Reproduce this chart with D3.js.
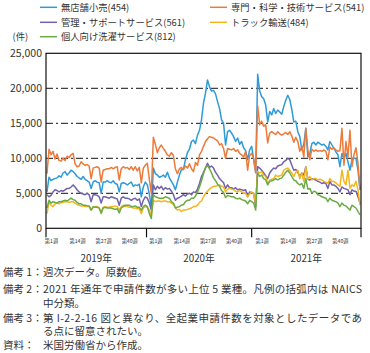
<!DOCTYPE html>
<html><head><meta charset="utf-8">
<script src="https://cdn.jsdelivr.net/npm/d3@7"></script>
<style>
body{margin:0;background:#fff;}
svg{display:block;font-family:"Noto Sans CJK JP","Noto Sans",sans-serif;}
</style></head><body>
<svg id="c" width="370" height="353"></svg>
<script>
const seriesNames = ["無店舗小売(454)","専門・科学・技術サービス(541)","管理・サポートサービス(561)","トラック輸送(484)","個人向け洗濯サービス(812)"];
const seriesColors = ["#2f9ad8","#ec7a3a","#7262ab","#f5b51c","#6cab44"];
const retail = [5200,7300,6800,7000,7100,7200,7500,7300,7900,8100,
7600,7900,8300,8100,7800,7400,7200,7000,7400,7000,
6800,6600,5700,6600,6800,6600,6500,5000,6600,6600,
6800,6600,6500,6800,6400,6300,5200,6400,6500,6400,
6200,6400,6600,6000,6200,6100,6300,4500,5900,6600,
6200,4900,2900,8600,7800,7600,7300,7400,7600,7300,
8000,7200,6700,6200,5500,6600,7600,8400,8400,9800,
10800,11300,12400,12600,12100,13300,14000,15500,17900,19300,
21200,20200,19600,19700,19200,18100,17100,15500,15000,11900,
13800,14000,13600,13100,12400,12900,12000,12400,11500,11100,
9800,11200,11700,9800,8000,22000,19600,18800,18500,17600,
15200,16700,16200,17100,16400,16900,16600,16300,17400,18300,
19000,18400,17000,15200,15300,13800,13100,11200,12000,14300,
10200,10700,12100,12300,11900,12300,12100,11900,12000,11700,
11200,12400,11900,11400,10900,10500,8800,10700,10000,10700,
9500,8300,9800,10000,10000,8300,5500];
const professional = [7800,11300,10500,11000,9900,10600,9700,9600,10000,9700,
10300,10100,10500,10700,9200,8800,8900,9500,9200,9000,
9100,8900,7100,8600,8700,8800,8600,6600,8300,8400,
8500,8500,8700,8500,8700,8800,6900,8500,8800,8600,
8700,8400,8800,8300,8800,8200,8700,6500,8600,9000,
9300,7000,5000,13000,12000,10800,11500,11900,11400,11000,
10500,10300,10800,10400,8500,7800,8500,8700,8400,8900,
8600,9200,8500,8100,9400,9000,10500,11000,11700,12400,
12800,13100,13000,12900,12700,12500,11900,12100,11400,10000,
11400,11300,11200,11400,11000,11200,10700,10500,10200,11000,
8300,10400,10700,10000,7900,17500,14800,15300,14600,14800,
12200,13600,13800,13600,13400,13800,13500,13300,13500,13700,
13400,13800,13200,12300,13000,12400,11000,11700,10200,14300,
11200,9800,11300,11000,11200,11000,11100,11000,11200,11000,
9800,11600,11300,11500,11200,11000,11100,14300,9000,12400,
10200,14000,8800,10500,11500,9300,5500];
const admin = [4800,4500,4700,5200,5500,5400,5200,5400,5300,5500,
5700,5700,5900,6200,5900,5500,5200,5000,4900,4800,
5000,4800,3800,4800,4800,4700,4500,3600,4500,4500,
4400,4300,4500,4400,4300,4200,3300,4300,4500,4300,
4300,4200,4000,4200,4300,4000,4200,3100,4000,4500,
4300,3600,2600,6200,5500,6000,5700,6000,5500,5800,
5600,5700,5300,4800,4000,4300,4400,4600,4800,4600,
4900,5000,4800,5200,5100,5600,6400,7400,8000,8600,
9300,8700,8900,8600,8000,7600,7100,6800,6500,5700,
6200,5800,5800,5600,5800,5500,5600,5500,5400,5500,
4500,5200,5100,5000,3100,8800,8600,8300,7900,7500,
7100,7900,8300,8600,8500,8900,9000,9100,9500,9700,
10000,9800,9000,8300,8400,8000,7400,7900,7600,8800,
7000,6900,7100,7000,6900,6700,6600,6400,6500,6400,
5700,6700,6200,6200,6000,5700,5200,5900,5700,5600,
5500,4800,5500,5300,5300,4500,3600];
const trucking = [2100,3800,3300,3100,3500,3600,3500,3700,3700,3800,
3800,3700,3800,3800,3600,3400,3300,3200,3200,3100,
3100,3100,2600,3000,3100,3100,2900,2400,3000,3100,
3000,3000,3100,3100,3200,3100,2600,3100,3300,3100,
3100,3000,3000,2900,2900,2800,2800,2100,2900,3100,
3000,2600,1900,4000,3800,3900,3900,3800,3900,3900,
3800,3800,3600,3400,2900,2600,2700,2400,2600,2600,
2700,2800,2900,3100,3100,3300,3700,3900,4500,5000,
5300,5600,5800,6000,6000,6100,6200,6000,5900,5200,
5600,5700,5600,5500,5300,5200,5400,5200,5000,5000,
4500,4900,5200,4900,3600,8100,7900,8100,7600,7400,
6400,6900,7000,7100,7600,7400,7500,7600,8300,8500,
8600,8300,7900,7400,8000,8300,7100,7900,6700,8800,
7000,7400,6900,7100,7100,6900,7000,6900,6700,6600,
6400,7100,6700,6700,6500,6200,6000,8300,6700,6200,
8300,5700,6200,6000,6700,5500,3300];
const laundry = [2900,4000,3600,3800,3700,3600,3800,3800,3900,4000,
3900,4100,4300,4100,4000,3700,3500,3500,3300,3300,
3200,3200,2600,3100,3000,3000,2900,2100,2900,3000,
2900,2900,2900,2800,2700,2800,2200,2900,3100,3300,
3300,3300,3100,3100,3200,3000,3000,2600,3100,3300,
3100,2100,1400,4800,4500,4400,4300,4300,4300,4500,
4400,4300,3800,3600,2900,3000,3100,3300,3400,3800,
4000,4000,4300,4300,4600,5200,5900,6800,7800,8700,
9000,8500,7900,7200,6800,6300,6000,5400,5100,4400,
4700,4600,4500,4500,4300,4200,4300,4100,4000,3900,
3500,4000,3800,3600,2600,7900,7400,7600,7100,6900,
6200,6700,6800,6900,7100,6900,7100,7200,7600,8000,
8300,7900,7400,6900,6800,6400,6200,6400,5700,7100,
5600,5700,5000,5300,5200,4800,4700,4500,4400,4300,
3800,4300,4000,3900,3800,3600,3100,3600,3300,3200,
2900,2600,3300,3100,2900,2400,1900];
const yTicks = [0,5000,10000,15000,20000,25000];
const gridValues = [5000,10000,15000,20000];
const weekLabels = ["第1週","第14週","第27週","第40週","第1週","第14週","第27週","第40週","第1週","第14週","第27週","第40週"];
const weekLabelIdx = [0,13,26,39,52,65,78,91,105,118,131,144];
const yearLabels = ["2019年","2020年","2021年"];
const yearBounds = [-0.5,49.6,102,156.5];
const unitLabel = "(件)";
const notes = [
  {label:"備考 1：", lines:["週次データ。原数値。"]},
  {label:"備考 2：", lines:["2021 年通年で申請件数が多い上位 5 業種。凡例の括弧内は NAICS","中分類。"]},
  {label:"備考 3：", lines:["第 I-2-2-16 図と異なり、全起業申請件数を対象としたデータであ","る点に留意されたい。"]},
  {label:"資料：", lines:["米国労働省から作成。"]}
];

const series = [retail, professional, admin, trucking, laundry];
const svg = d3.select("#c");
const x = d3.scaleLinear().domain([-0.5,156.5]).range([46,361]);
const y = d3.scaleLinear().domain([0,25000]).range([228.3,53.3]);

// gridlines
svg.append("g").selectAll("line").data(gridValues).join("line")
  .attr("x1",x(-0.5)).attr("x2",x(156.5))
  .attr("y1",d=>y(d)).attr("y2",d=>y(d))
  .attr("stroke","#111").attr("stroke-width",1)
  .attr("stroke-dasharray","7,3,2,3");

// y labels
svg.append("g").selectAll("text").data(yTicks).join("text")
  .attr("x",42).attr("y",d=>y(d)+3.6)
  .attr("text-anchor","end").attr("font-size",10.5).attr("fill","#333")
  .text(d=>d3.format(",")(d));

// series lines
const line = d3.line().x((d,i)=>x(i)).y(d=>y(d));
svg.append("g").selectAll("path").data(series).join("path")
  .attr("d",line).attr("fill","none")
  .attr("stroke",(d,i)=>seriesColors[i]).attr("stroke-width",1.5)
  .attr("stroke-linejoin","round");

// frame
svg.append("rect").attr("x",x(-0.5)).attr("y",y(25000))
  .attr("width",x(156.5)-x(-0.5)).attr("height",y(0)-y(25000))
  .attr("fill","none").attr("stroke","#111").attr("stroke-width",1.2);

// year ticks
svg.append("g").selectAll("line").data(yearBounds).join("line")
  .attr("x1",d=>x(d)).attr("x2",d=>x(d)).attr("y1",y(0)).attr("y2",y(0)+9)
  .attr("stroke","#111").attr("stroke-width",1.2);

// week labels
svg.append("g").selectAll("text").data(weekLabels).join("text")
  .attr("x",(d,i)=>x(weekLabelIdx[i])+4.5).attr("y",242.5)
  .attr("text-anchor","middle").attr("font-size",5.2).attr("fill","#333")
  .text(d=>d);

// year labels
svg.append("g").selectAll("text").data(yearLabels).join("text")
  .attr("x",(d,i)=>(x(yearBounds[i])+x(yearBounds[i+1]))/2).attr("y",261.6)
  .attr("text-anchor","middle").attr("font-size",9.8).attr("fill","#333")
  .text(d=>d);

// legend
const legPos = [[40,7.3],[210,7.3],[40,22.3],[210,22.3],[40,36.7]];
const leg = svg.append("g").selectAll("g").data(seriesNames).join("g")
  .attr("transform",(d,i)=>`translate(${legPos[i][0]},${legPos[i][1]})`);
leg.append("line").attr("x1",0).attr("x2",17).attr("y1",0).attr("y2",0)
  .attr("stroke",(d,i)=>seriesColors[i]).attr("stroke-width",1.5);
leg.append("text").attr("x",21).attr("y",3.4).attr("font-size",9.3).attr("fill","#333").text(d=>d);
svg.append("text").attr("x",12.5).attr("y",40.1).attr("font-size",9.3).attr("fill","#333").text(unitLabel);

// notes: one text element per paragraph, wrapped lines as tspans
const noteY = [276,293,321.5,349];
const lineGap = 13.6;
notes.forEach((n,k)=>{
  const t = svg.append("text").attr("y",noteY[k]).attr("font-size",10.5).attr("fill","#333");
  t.append("tspan").attr("x",3).attr("y",noteY[k]).text(n.label);
  n.lines.forEach((s,j)=>{
    const ts = t.append("tspan").attr("x",43).attr("y",noteY[k]+j*lineGap).text(s);
    if (s.length > 30) ts.attr("textLength",319).attr("lengthAdjust","spacing");
  });
});
</script>
</body></html>
